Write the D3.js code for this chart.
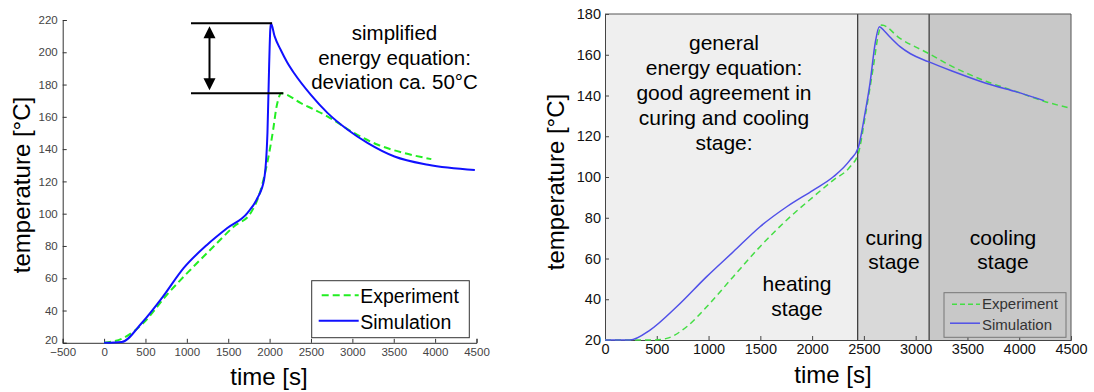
<!DOCTYPE html>
<html>
<head>
<meta charset="utf-8">
<script src="https://cdn.jsdelivr.net/npm/d3@7"></script>
<style>
  body { margin: 0; background: #fff; }
  svg { display: block; font-family: Arial, "Liberation Sans", sans-serif; }
</style>
</head>
<body>
<svg id="chart" width="1094" height="392"></svg>
<script>
// left panel: simplified energy equation
const leftSim = [[0,20],[213,20.5],[458,32.4],[700,47.8],[963,66.4],[1246,80.8],[1489,91.1],[1731,100.4],
  [1853,109.7],[1933,121],[1974,150],[1994,191],[2008,214],[2016,218],[2060,210],[2135,201.4],[2210,194],
  [2297,187],[2499,173.6],[2702,162.3],[2944,152],[3187,143.7],[3509,135.4],[3914,130.3],[4480,127]];
const leftExp = [[0,20],[235,23],[477,32.4],[761,49.9],[1044,65.3],[1326,79.8],[1569,92.1],[1771,100.4],
  [1893,114.8],[1953,127],[2043,152],[2083,166],[2115,172.5],[2140,174.6],[2378,168.5],[2702,160.2],
  [3024,149.9],[3308,142.7],[3631,137.5],[3954,133.8]];
const leftXTicks = [-500,0,500,1000,1500,2000,2500,3000,3500,4000,4500];
const leftYTicks = [20,40,60,80,100,120,140,160,180,200,220];
const leftNote = ['simplified', 'energy equation:', 'deviation ca. 50°C'];
const deviation = [174.6, 218];

// right panel: general energy equation
const rightSim = [[0,20],[241,20],[435,24.9],[692,36.3],[982,51.1],[1239,63.3],[1497,75.6],[1755,85.4],
  [2012,93.6],[2205,100.1],[2366,108.3],[2446,114.5],[2511,131.4],[2559,146],[2610,166],[2649,173.8],
  [2700,171.5],[2760,168.3],[2849,164],[2950,160.5],[3122,156.6],[3351,152],[3679,146],[4008,141.3],[4238,137.5]];
const rightExp = [[0,20],[467,20],[596,20.8],[789,26.5],[982,36.3],[1239,51.1],[1497,65.8],[1755,78.9],
  [2012,90.3],[2205,98.5],[2366,105],[2446,111.5],[2520,132],[2591,154],[2640,170],[2672,174.6],
  [2849,168],[3122,160.7],[3351,154.3],[3679,147],[4008,141.3],[4238,137.2],[4484,133.9]];
const rightXTicks = [0,500,1000,1500,2000,2500,3000,3500,4000,4500];
const rightYTicks = [20,40,60,80,100,120,140,160,180];
const stageBounds = [0, 2440, 3130, 4500];
const stageFills = ['#efefef', '#d9d9d9', '#c8c8c8'];
const rightNote = ['general', 'energy equation:', 'good agreement in', 'curing and cooling', 'stage:'];
const stageNames = [['heating', 'stage'], ['curing', 'stage'], ['cooling', 'stage']];

const svg = d3.select('#chart');

// ---------- left ----------
const xL = d3.scaleLinear().domain([-500, 4500]).range([62.7, 476.5]);
const yL = d3.scaleLinear().domain([20, 220]).range([342.8, 20]);
const gL = svg.append('g');

const axL = gL.append('g').attr('transform', 'translate(0,' + yL(20) + ')')
  .call(d3.axisBottom(xL).tickValues(leftXTicks).tickSize(-4).tickPadding(6).tickFormat(d3.format('d')));
const ayL = gL.append('g').attr('transform', 'translate(' + xL(-500) + ',0)')
  .call(d3.axisLeft(yL).tickValues(leftYTicks).tickSize(-4).tickPadding(5).tickFormat(d3.format('d')));
[axL, ayL].forEach(a => {
  a.select('.domain').attr('stroke', '#333').attr('stroke-width', 1);
  a.selectAll('.tick line').attr('stroke', '#333');
  a.selectAll('.tick text').attr('fill', '#444').style('font-size', '11.5px');
});
axL.selectAll('.tick text').attr('dy', '0.6em');
ayL.selectAll('.tick text').filter(d => d === 20).attr('dy', '0.1em');

const lineL = d3.line().x(d => xL(d[0])).y(d => yL(d[1])).curve(d3.curveMonotoneX);
gL.append('path').datum(leftExp).attr('fill', 'none').attr('stroke', '#22ee22')
  .attr('stroke-width', 2).attr('stroke-dasharray', '7,4').attr('d', lineL);
gL.append('path').datum(leftSim).attr('fill', 'none').attr('stroke', '#1010ff')
  .attr('stroke-width', 2).attr('d', lineL);

// deviation marker
gL.append('line').attr('x1', 191).attr('x2', xL(2030)).attr('y1', yL(deviation[1])).attr('y2', yL(deviation[1]))
  .attr('stroke', '#000').attr('stroke-width', 2);
gL.append('line').attr('x1', 191).attr('x2', xL(2165)).attr('y1', yL(deviation[0])).attr('y2', yL(deviation[0]))
  .attr('stroke', '#000').attr('stroke-width', 2);
const ax = 209.5;
gL.append('line').attr('x1', ax).attr('x2', ax).attr('y1', yL(deviation[1]) + 8).attr('y2', yL(deviation[0]) - 8)
  .attr('stroke', '#000').attr('stroke-width', 2);
gL.append('path').attr('d', 'M' + ax + ',' + (yL(deviation[1]) + 3) + ' l-6,12 l12,0 z').attr('fill', '#000');
gL.append('path').attr('d', 'M' + ax + ',' + (yL(deviation[0]) - 3) + ' l-6,-12 l12,0 z').attr('fill', '#000');

gL.append('text').attr('text-anchor', 'middle')
  .style('font-size', '20.5px').selectAll('tspan').data(leftNote).join('tspan')
  .attr('x', 394.5).attr('y', (d, i) => 40 + i * 24.6).text(d => d);

// left legend
const lgL = gL.append('g').attr('transform', 'translate(311.7,280.7)');
lgL.append('rect').attr('width', 157.6).attr('height', 57).attr('fill', '#fff').attr('stroke', '#333');
lgL.append('line').attr('x1', 10).attr('x2', 47).attr('y1', 14.5).attr('y2', 14.5)
  .attr('stroke', '#22ee22').attr('stroke-width', 2).attr('stroke-dasharray', '7,4');
lgL.append('line').attr('x1', 7).attr('x2', 47).attr('y1', 40).attr('y2', 40)
  .attr('stroke', '#1010ff').attr('stroke-width', 2);
lgL.append('text').attr('x', 48.5).attr('y', 22.5).style('font-size', '19.5px').text('Experiment');
lgL.append('text').attr('x', 48.5).attr('y', 48.5).style('font-size', '19.5px').text('Simulation');

gL.append('text').attr('transform', 'translate(30,185) rotate(-90)').attr('text-anchor', 'middle')
  .style('font-size', '24px').text('temperature [°C]');
gL.append('text').attr('x', 269).attr('y', 385).attr('text-anchor', 'middle')
  .style('font-size', '24px').text('time [s]');

// ---------- right ----------
const xR = d3.scaleLinear().domain([0, 4500]).range([605, 1071]);
const yR = d3.scaleLinear().domain([20, 180]).range([340, 14]);
const gR = svg.append('g');

gR.selectAll('rect.stage').data(stageFills).join('rect').attr('class', 'stage')
  .attr('x', (d, i) => xR(stageBounds[i])).attr('y', yR(180))
  .attr('width', (d, i) => xR(stageBounds[i + 1]) - xR(stageBounds[i]))
  .attr('height', yR(20) - yR(180)).attr('fill', d => d);
gR.selectAll('line.bound').data(stageBounds.slice(1, 3)).join('line').attr('class', 'bound')
  .attr('x1', d => xR(d)).attr('x2', d => xR(d)).attr('y1', yR(180)).attr('y2', yR(20))
  .attr('stroke', '#333').attr('stroke-width', 1.2);

const axR = gR.append('g').attr('transform', 'translate(0,' + yR(20) + ')')
  .call(d3.axisBottom(xR).tickValues(rightXTicks).tickSize(-4).tickPadding(5).tickFormat(d3.format('d')));
const ayR = gR.append('g').attr('transform', 'translate(' + xR(0) + ',0)')
  .call(d3.axisLeft(yR).tickValues(rightYTicks).tickSize(-4).tickPadding(4).tickFormat(d3.format('d')));
[axR, ayR].forEach(a => {
  a.select('.domain').attr('stroke', '#444');
  a.selectAll('.tick line').attr('stroke', '#444');
  a.selectAll('.tick text').attr('fill', '#111').style('font-size', '14.5px');
});
axR.selectAll('.tick text').attr('dy', '0.6em');
gR.append('path').attr('d', 'M' + xR(0) + ',' + yR(180) + 'H' + xR(4500) + 'V' + yR(20))
  .attr('fill', 'none').attr('stroke', '#555');

const lineR = d3.line().x(d => xR(d[0])).y(d => yR(d[1])).curve(d3.curveMonotoneX);
gR.append('path').datum(rightExp).attr('fill', 'none').attr('stroke', '#44dd44')
  .attr('stroke-width', 1.5).attr('stroke-dasharray', '6,4').attr('d', lineR);
gR.append('path').datum(rightSim).attr('fill', 'none').attr('stroke', '#5050e8')
  .attr('stroke-width', 1.5).attr('d', lineR);

gR.append('text').attr('text-anchor', 'middle').style('font-size', '21px')
  .selectAll('tspan').data(rightNote).join('tspan')
  .attr('x', 724).attr('y', (d, i) => 50 + i * 25).text(d => d);

const stageCx = [797, 894, 1003];
const stageY = [291, 244.5, 244.5];
stageNames.forEach((s, k) => {
  gR.append('text').attr('text-anchor', 'middle').style('font-size', '21px')
    .selectAll('tspan').data(s).join('tspan')
    .attr('x', stageCx[k]).attr('y', (d, i) => stageY[k] + i * 24.5).text(d => d);
});

// right legend
const lgR = gR.append('g').attr('transform', 'translate(944,292.7)');
lgR.append('rect').attr('width', 122).attr('height', 44.6).attr('fill', '#c8c8c8').attr('stroke', '#777');
lgR.append('line').attr('x1', 8).attr('x2', 36).attr('y1', 11.5).attr('y2', 11.5)
  .attr('stroke', '#44dd44').attr('stroke-width', 1.5).attr('stroke-dasharray', '5,3');
lgR.append('line').attr('x1', 6).attr('x2', 36).attr('y1', 30.5).attr('y2', 30.5)
  .attr('stroke', '#5050e8').attr('stroke-width', 1.5);
lgR.append('text').attr('x', 38).attr('y', 16.5).attr('fill', '#333').style('font-size', '15px').text('Experiment');
lgR.append('text').attr('x', 38).attr('y', 37).attr('fill', '#333').style('font-size', '15px').text('Simulation');

gR.append('text').attr('transform', 'translate(564,182) rotate(-90)').attr('text-anchor', 'middle')
  .style('font-size', '24px').text('temperature [°C]');
gR.append('text').attr('x', 833).attr('y', 383).attr('text-anchor', 'middle')
  .style('font-size', '24px').text('time [s]');
</script>
</body>
</html>
